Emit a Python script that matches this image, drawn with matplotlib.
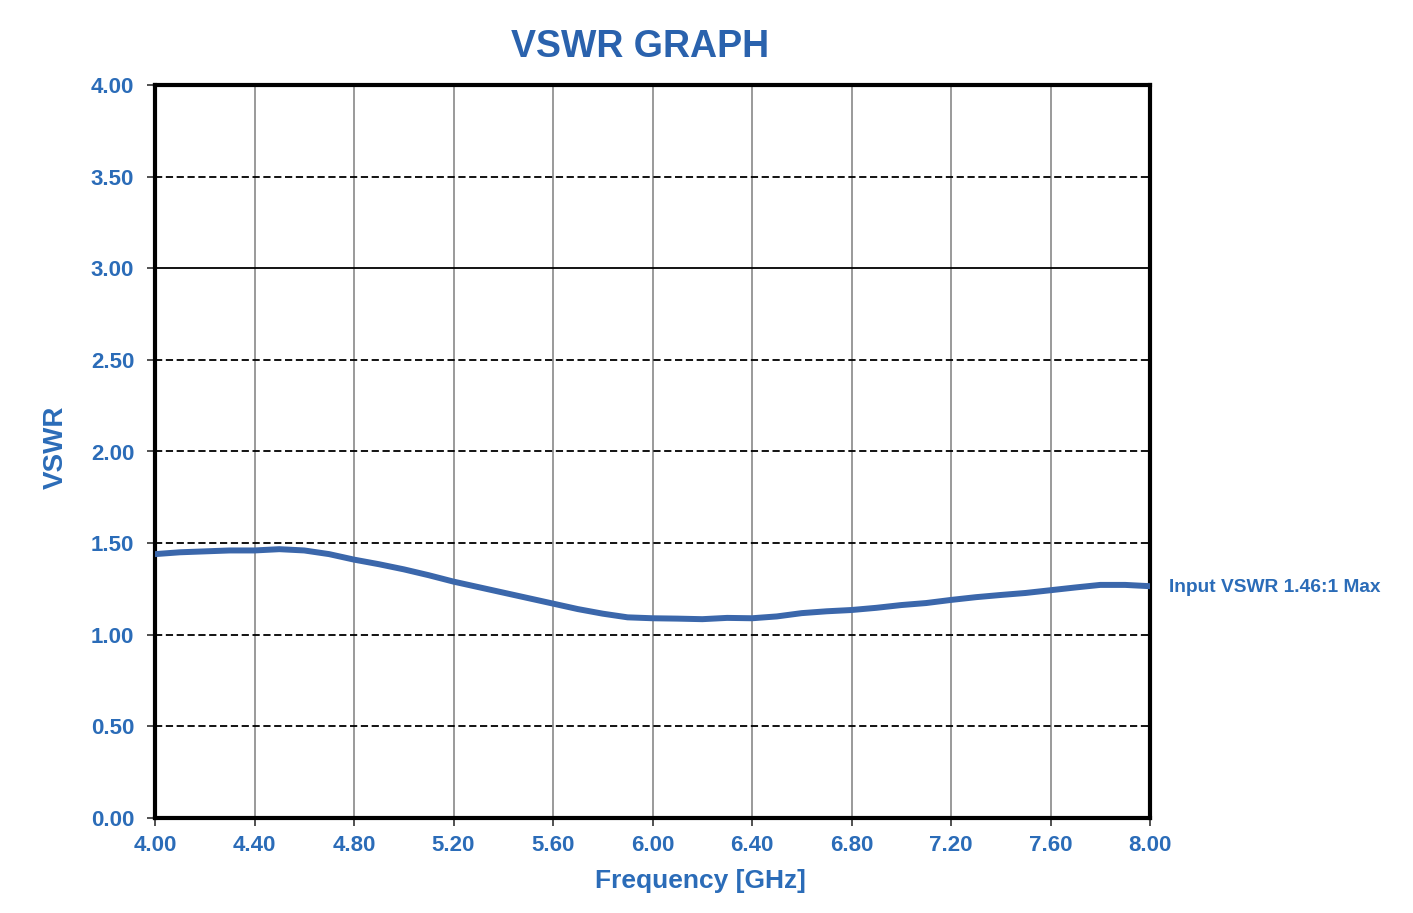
import matplotlib
matplotlib.use("Agg")
import matplotlib.pyplot as plt
import numpy as np

freq = [4.00, 4.10, 4.20, 4.30, 4.40, 4.50, 4.60, 4.70, 4.80, 4.90, 5.00, 5.10, 5.20, 5.30,
        5.40, 5.50, 5.60, 5.70, 5.80, 5.90, 6.00, 6.10, 6.20, 6.30, 6.40, 6.50, 6.60, 6.70,
        6.80, 6.90, 7.00, 7.10, 7.20, 7.30, 7.40, 7.50, 7.60, 7.70, 7.80, 7.90, 8.00]
vswr = [1.44, 1.45, 1.455, 1.46, 1.46, 1.467, 1.46, 1.44, 1.41, 1.385, 1.357, 1.325, 1.29, 1.26,
        1.23, 1.20, 1.17, 1.14, 1.115, 1.095, 1.09, 1.088, 1.085, 1.092, 1.09, 1.10, 1.118, 1.128,
        1.135, 1.147, 1.162, 1.173, 1.19, 1.205, 1.217, 1.228, 1.243, 1.258, 1.272, 1.272, 1.265]

xticks = [4.00, 4.40, 4.80, 5.20, 5.60, 6.00, 6.40, 6.80, 7.20, 7.60, 8.00]
yticks = [0.00, 0.50, 1.00, 1.50, 2.00, 2.50, 3.00, 3.50, 4.00]

title = "VSWR GRAPH"
xlabel = "Frequency [GHz]"
ylabel = "VSWR"
note = "Input VSWR 1.46:1 Max"

blue_text = "#2b6cb8"
title_blue = "#2a62ad"
line_blue = "#3b67ab"

plt.rcParams['font.family'] = ['Liberation Sans', 'DejaVu Sans']

fig = plt.figure(figsize=(14.13, 9.13), dpi=100)
ax = fig.add_axes([155/1413, 1 - 818/913, (1150-155)/1413, (818-85)/913])

ax.set_xlim(4.0, 8.0)
ax.set_ylim(0.0, 4.0)

for x in xticks[1:-1]:
    ax.axvline(x, color="#9a9a9a", lw=1.4, zorder=1)
for y in yticks[1:-1]:
    if abs(y - 3.0) < 1e-9:
        ax.axhline(y, color="black", lw=1.3, zorder=1)
    else:
        ax.axhline(y, color="black", lw=1.3, ls=(0, (4, 2)), zorder=1)

ax.plot(freq, vswr, color=line_blue, lw=4.3, zorder=3, solid_capstyle="round")

ax.set_xticks(xticks)
ax.set_yticks(yticks)
ax.set_xticklabels([f"{v:.2f}" for v in xticks])
ax.set_yticklabels([f"{v:.2f}" for v in yticks])
ax.tick_params(axis="both", direction="out", length=6, width=1.2, color="#333333",
               labelsize=16, labelcolor=blue_text, pad=6)
for lab in ax.get_xticklabels() + ax.get_yticklabels():
    lab.set_fontweight("bold")
ax.tick_params(axis="y", pad=9)

for s in ax.spines.values():
    s.set_linewidth(3.0)
    s.set_color("black")

fig.text(640/1413, 1 - 47/913, title, ha="center", va="center", fontsize=27,
         fontweight="bold", color=title_blue)
fig.text(700/1413, 1 - 881/913, xlabel, ha="center", va="center", fontsize=19,
         fontweight="bold", color=blue_text)
fig.text(56/1413, 1 - 447/913, ylabel, ha="center", va="center", fontsize=20,
         fontweight="bold", color=blue_text, rotation=90)
fig.text(1169/1413, 1 - 588/913, note, ha="left", va="center", fontsize=13.8,
         fontweight="bold", color=blue_text)

fig.savefig("out.png", dpi=100, facecolor="white")
